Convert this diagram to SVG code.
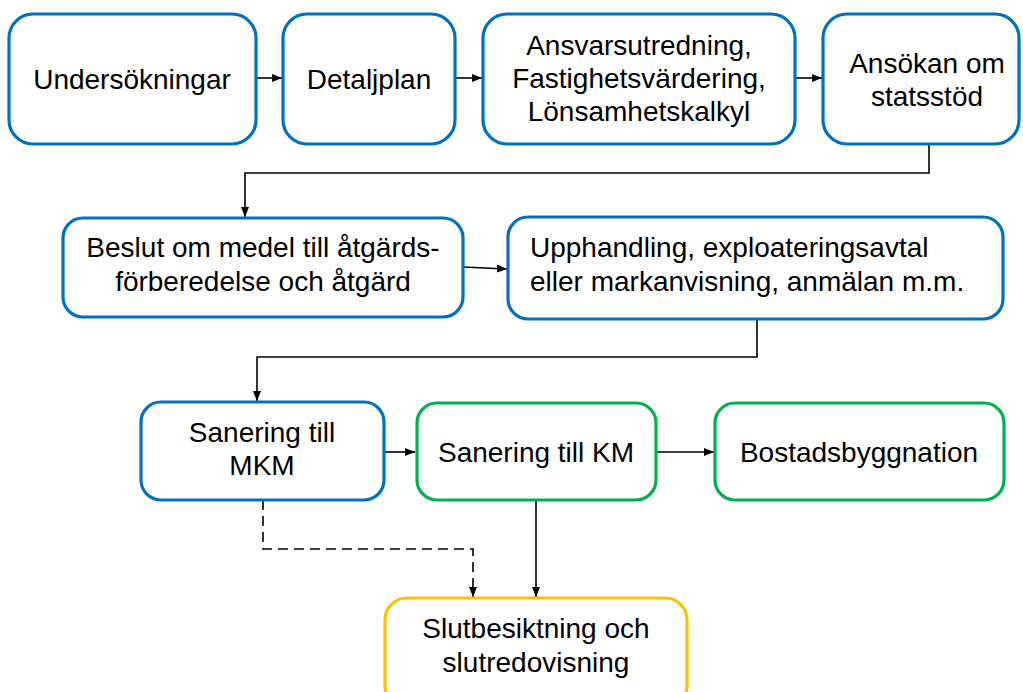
<svg xmlns="http://www.w3.org/2000/svg" width="1023" height="692" viewBox="0 0 1023 692">
<defs>
<marker id="ah" viewBox="0 0 10 8" refX="10" refY="4" markerWidth="10" markerHeight="8" markerUnits="userSpaceOnUse" orient="auto">
<path d="M0,0 L10,4 L0,8 Z" fill="#000"/>
</marker>
<style>
.box{fill:#fff;stroke-width:3.2}
.b{stroke:#0070C0}
.g{stroke:#00B050}
.y{stroke:#FFC000}
text{font-family:"Liberation Sans",Arial,sans-serif;font-size:28px;fill:#000}
.c{text-anchor:middle}
.con{fill:none;stroke:#000;stroke-width:1.6}
</style>
</defs>
<rect width="1023" height="692" fill="#fff"/>
<g id="connectors">
<path class="con" d="M257,78 H282" marker-end="url(#ah)"/>
<path class="con" d="M455,78 H482" marker-end="url(#ah)"/>
<path class="con" d="M795,78 H822" marker-end="url(#ah)"/>
<path class="con" d="M929,144 V173 H245 V217" marker-end="url(#ah)"/>
<path class="con" d="M463,267 L507,269" marker-end="url(#ah)"/>
<path class="con" d="M757,319 V357 H257 V401" marker-end="url(#ah)"/>
<path class="con" d="M384,452 H415" marker-end="url(#ah)"/>
<path class="con" d="M656,452 H714" marker-end="url(#ah)"/>
<path class="con" d="M263,500 V549 H473 V597" stroke-dasharray="10,6" marker-end="url(#ah)"/>
<path class="con" d="M536,500 V597" marker-end="url(#ah)"/>
</g>
<g id="n1"><rect class="box b" x="9" y="14" width="247" height="130" rx="24"/><text class="c" x="132" y="89">Undersökningar</text></g>
<g id="n2"><rect class="box b" x="283" y="14" width="172" height="130" rx="24"/><text class="c" x="369" y="89">Detaljplan</text></g>
<g id="n3"><rect class="box b" x="483" y="14" width="312" height="130" rx="24"/><text class="c" x="639" y="55">Ansvarsutredning,</text><text class="c" x="639" y="88">Fastighetsvärdering,</text><text class="c" x="639" y="121">Lönsamhetskalkyl</text></g>
<g id="n4"><rect class="box b" x="823" y="14" width="196" height="130" rx="24"/><text class="c" x="927" y="73">Ansökan om</text><text class="c" x="927" y="106">statsstöd</text></g>
<g id="n5"><rect class="box b" x="63" y="218" width="400" height="99" rx="20"/><text class="c" x="263" y="257">Beslut om medel till åtgärds-</text><text class="c" x="263" y="291">förberedelse och åtgärd</text></g>
<g id="n6"><rect class="box b" x="508" y="217" width="495" height="102" rx="20"/><text x="530" y="257">Upphandling, exploateringsavtal</text><text x="530" y="291">eller markanvisning, anmälan m.m.</text></g>
<g id="n7"><rect class="box b" x="141" y="402" width="243" height="98" rx="20"/><text class="c" x="262" y="442">Sanering till</text><text class="c" x="262" y="475">MKM</text></g>
<g id="n8"><rect class="box g" x="417" y="403" width="239" height="97" rx="20"/><text class="c" x="536" y="462">Sanering till KM</text></g>
<g id="n9"><rect class="box g" x="715" y="403" width="289" height="97" rx="20"/><text class="c" x="859" y="462">Bostadsbyggnation</text></g>
<g id="n10"><rect class="box y" x="385" y="598" width="302" height="110" rx="22"/><text class="c" x="536" y="638">Slutbesiktning och</text><text class="c" x="536" y="672">slutredovisning</text></g>
</svg>
